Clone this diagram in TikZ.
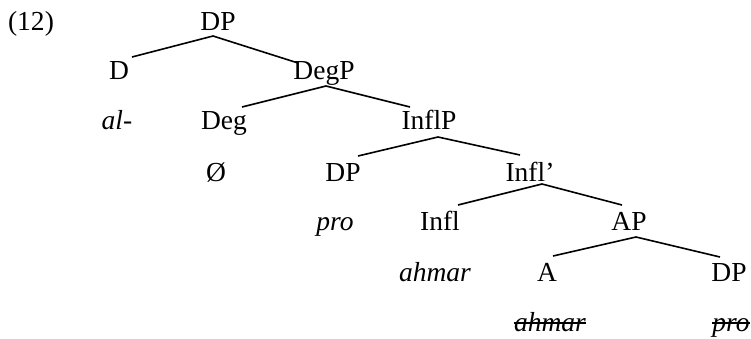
\documentclass[tikz,border=0pt]{standalone}
\usepackage{fontspec}
\setmainfont{Liberation Serif}
\begin{document}
\begin{tikzpicture}[x=1pt,y=-1pt,
  lab/.style={anchor=base,inner sep=0pt,font=\fontsize{27.5}{32}\selectfont},
  ilab/.style={lab,font=\fontsize{27.5}{32}\selectfont\itshape},
  branch/.style={line width=1.6pt},
  strike/.style={line width=1.4pt}]
\useasboundingbox (0,0) rectangle (751,338);
% labels
\node[lab] (n12) at (31,30) {(12)};
\node[lab] (DPa) at (218,30) {DP};
\node[lab] (D) at (119,79) {D};
\node[lab] (DegP) at (324,79) {DegP};
\node[ilab] (al) at (117,129) {al-};
\node[lab] (Deg) at (224,129) {Deg};
\node[lab] (InflP) at (429,129) {InflP};
\node[lab] (null) at (216,181) {Ø};
\node[lab] (DPb) at (343,181) {DP};
\node[lab] (Inflbar) at (530,181) {Infl’};
\node[ilab] (proa) at (335,230) {pro};
\node[lab] (Infl) at (440,230) {Infl};
\node[lab] (AP) at (629,230) {AP};
\node[ilab] (ahmara) at (435,281) {ahmar};
\node[lab] (A) at (547,281) {A};
\node[lab] (DPc) at (729,281) {DP};
\node[ilab] (ahmarb) at (550,331) {ahmar};
\node[ilab] (prob) at (731,331) {pro};
% branches
\draw[branch] ([xshift=13pt,yshift=22pt]D.base) -- ([xshift=-5pt,yshift=-6pt]DPa.base) -- ([xshift=-26pt,yshift=16pt]DegP.base);
\draw[branch] ([xshift=18pt,yshift=22pt]Deg.base) -- ([xshift=2pt,yshift=-7pt]DegP.base) -- ([xshift=-19pt,yshift=22pt]InflP.base);
\draw[branch] ([xshift=15pt,yshift=25pt]DPb.base) -- ([xshift=9pt,yshift=-8pt]InflP.base) -- ([xshift=-10pt,yshift=26pt]Inflbar.base);
\draw[branch] ([xshift=18pt,yshift=25pt]Infl.base) -- ([xshift=12pt,yshift=-3pt]Inflbar.base) -- ([xshift=-7pt,yshift=25pt]AP.base);
\draw[branch] ([xshift=6pt,yshift=25pt]A.base) -- ([xshift=7pt,yshift=-7pt]AP.base) -- ([xshift=-9pt,yshift=24pt]DPc.base);
% strike-throughs
\draw[strike] ([yshift=8pt]ahmarb.base west) -- ([yshift=8pt]ahmarb.base east);
\draw[strike] ([yshift=8pt]prob.base west) -- ([yshift=8pt]prob.base east);
\end{tikzpicture}
\end{document}
